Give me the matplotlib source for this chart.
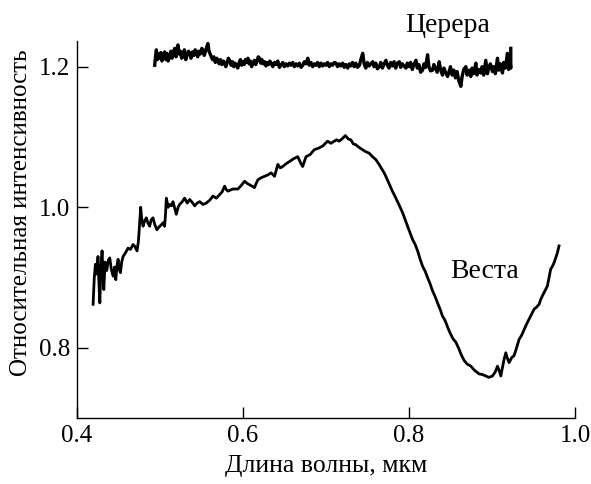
import numpy as np
import matplotlib
matplotlib.use('Agg')
import matplotlib.pyplot as plt

plt.rcParams['font.family'] = ['Liberation Serif', 'DejaVu Serif']

# Vesta spectrum (wavelength, um / relative intensity)
vesta_x = [0.4196, 0.4210, 0.4224, 0.4240, 0.4255, 0.4265, 0.4277, 0.4290, 0.4304,
           0.4315, 0.4325, 0.4340, 0.4360, 0.4380, 0.4397, 0.4415, 0.4437, 0.4455,
           0.4469, 0.4485, 0.4497, 0.4510, 0.4525, 0.4540, 0.4557, 0.4585, 0.4617,
           0.4645, 0.4677, 0.4700, 0.4725, 0.4740, 0.4749, 0.4760, 0.4769, 0.4780,
           0.4798, 0.4815, 0.4837, 0.4855, 0.4877, 0.4895, 0.4917, 0.4940, 0.4965,
           0.4990, 0.5017, 0.5040, 0.5057, 0.5068, 0.5078, 0.5100, 0.5118, 0.5140,
           0.5158, 0.5180, 0.5198, 0.5220, 0.5238, 0.5270, 0.5298, 0.5330, 0.5359,
           0.5390, 0.5419, 0.5450, 0.5479, 0.5520, 0.5559, 0.5600, 0.5640, 0.5680,
           0.5720, 0.5750, 0.5780, 0.5800, 0.5820, 0.5880, 0.5940, 0.5980, 0.6020,
           0.6050, 0.6080, 0.6110, 0.6140, 0.6160, 0.6180, 0.6220, 0.6261, 0.6300,
           0.6341, 0.6381, 0.6421, 0.6450, 0.6480, 0.6520, 0.6561, 0.6610, 0.6660,
           0.6700, 0.6720, 0.6760, 0.6810, 0.6860, 0.6910, 0.6960, 0.7020, 0.7060,
           0.7100, 0.7130, 0.7160, 0.7200, 0.7234, 0.7270, 0.7300, 0.7330, 0.7360,
           0.7400, 0.7440, 0.7480, 0.7520, 0.7560, 0.7600, 0.7640, 0.7680, 0.7710,
           0.7740, 0.7770, 0.7800, 0.7830, 0.7862, 0.7890, 0.7924, 0.7955, 0.7984,
           0.8015, 0.8044, 0.8075, 0.8104, 0.8135, 0.8164, 0.8195, 0.8224, 0.8255,
           0.8284, 0.8315, 0.8344, 0.8375, 0.8404, 0.8430, 0.8445, 0.8470, 0.8500,
           0.8530, 0.8565, 0.8600, 0.8630, 0.8665, 0.8700, 0.8745, 0.8790, 0.8845,
           0.8885, 0.8926, 0.8960, 0.9006, 0.9040, 0.9066, 0.9086, 0.9106, 0.9126,
           0.9146, 0.9166, 0.9186, 0.9206, 0.9236, 0.9266, 0.9296, 0.9326, 0.9357,
           0.9387, 0.9417, 0.9447, 0.9477, 0.9507, 0.9537, 0.9567, 0.9587, 0.9607,
           0.9637, 0.9667, 0.9687, 0.9707, 0.9727, 0.9747, 0.9767, 0.9787, 0.9807]
vesta_y = [0.862, 0.900, 0.919, 0.905, 0.930, 0.895, 0.864, 0.915, 0.938,
           0.905, 0.883, 0.922, 0.910, 0.925, 0.928, 0.912, 0.902, 0.915,
           0.897, 0.918, 0.926, 0.912, 0.907, 0.922, 0.930, 0.935, 0.942,
           0.940, 0.947, 0.944, 0.938, 0.950, 0.964, 0.985, 1.000, 0.985,
           0.973, 0.980, 0.985, 0.978, 0.973, 0.982, 0.985, 0.975, 0.968,
           0.972, 0.975, 0.978, 0.973, 0.990, 1.013, 1.000, 1.004, 1.002,
           1.008, 0.998, 0.990, 1.000, 1.004, 1.008, 1.013, 1.006, 1.011,
           1.007, 1.002, 1.006, 1.008, 1.004, 1.006, 1.010, 1.016, 1.013,
           1.018, 1.022, 1.030, 1.025, 1.023, 1.026, 1.026, 1.031, 1.037,
           1.034, 1.032, 1.030, 1.028, 1.034, 1.039, 1.042, 1.044, 1.046,
           1.049, 1.044, 1.061, 1.056, 1.058, 1.062, 1.065, 1.069, 1.072,
           1.062, 1.058, 1.072, 1.075, 1.082, 1.084, 1.087, 1.094, 1.091,
           1.094, 1.096, 1.094, 1.098, 1.102, 1.097, 1.096, 1.090, 1.089,
           1.085, 1.082, 1.079, 1.077, 1.072, 1.068, 1.061, 1.053, 1.047,
           1.039, 1.031, 1.023, 1.016, 1.008, 1.001, 0.992, 0.982, 0.973,
           0.963, 0.954, 0.947, 0.938, 0.926, 0.916, 0.909, 0.900, 0.891,
           0.881, 0.873, 0.864, 0.855, 0.845, 0.840, 0.836, 0.828, 0.820,
           0.813, 0.808, 0.799, 0.790, 0.782, 0.777, 0.774, 0.768, 0.763,
           0.762, 0.760, 0.758, 0.760, 0.766, 0.774, 0.768, 0.760, 0.772,
           0.784, 0.793, 0.785, 0.779, 0.786, 0.789, 0.800, 0.812, 0.818,
           0.826, 0.834, 0.841, 0.848, 0.855, 0.858, 0.862, 0.869, 0.874,
           0.881, 0.888, 0.900, 0.912, 0.916, 0.921, 0.928, 0.935, 0.945]

# Ceres spectrum
ceres_x = [0.4938, 0.4948, 0.4958, 0.4970, 0.4985, 0.4998, 0.5012, 0.5025, 0.5040,
           0.5058, 0.5072, 0.5085, 0.5100, 0.5118, 0.5132, 0.5148, 0.5162, 0.5178,
           0.5195, 0.5210, 0.5218, 0.5232, 0.5248, 0.5262, 0.5278, 0.5295, 0.5312,
           0.5330, 0.5345, 0.5359, 0.5375, 0.5392, 0.5410, 0.5425, 0.5439, 0.5455,
           0.5470, 0.5488, 0.5505, 0.5519, 0.5535, 0.5550, 0.5565, 0.5579, 0.5592,
           0.5605, 0.5619, 0.5635, 0.5650, 0.5668, 0.5684, 0.5699, 0.5715, 0.5730,
           0.5748, 0.5765, 0.5780, 0.5795, 0.5810, 0.5825, 0.5840, 0.5858, 0.5875,
           0.5890, 0.5905, 0.5920, 0.5938, 0.5955, 0.5970, 0.5985, 0.6000, 0.6015,
           0.6030, 0.6045, 0.6060, 0.6075, 0.6090, 0.6105, 0.6120, 0.6138, 0.6155,
           0.6170, 0.6185, 0.6201, 0.6215, 0.6230, 0.6245, 0.6261, 0.6278, 0.6295,
           0.6310, 0.6325, 0.6341, 0.6360, 0.6380, 0.6400, 0.6420, 0.6440, 0.6461,
           0.6480, 0.6500, 0.6520, 0.6540, 0.6561, 0.6580, 0.6600, 0.6620, 0.6640,
           0.6660, 0.6680, 0.6700, 0.6721, 0.6740, 0.6760, 0.6782, 0.6800, 0.6820,
           0.6840, 0.6860, 0.6880, 0.6900, 0.6920, 0.6941, 0.6960, 0.6980, 0.7000,
           0.7020, 0.7040, 0.7060, 0.7080, 0.7100, 0.7122, 0.7140, 0.7160, 0.7180,
           0.7202, 0.7220, 0.7240, 0.7262, 0.7280, 0.7300, 0.7320, 0.7340, 0.7360,
           0.7380, 0.7403, 0.7420, 0.7443, 0.7460, 0.7480, 0.7500, 0.7520, 0.7540,
           0.7563, 0.7580, 0.7600, 0.7620, 0.7643, 0.7660, 0.7680, 0.7700, 0.7723,
           0.7740, 0.7760, 0.7780, 0.7800, 0.7820, 0.7840, 0.7860, 0.7884, 0.7900,
           0.7920, 0.7940, 0.7964, 0.7980, 0.8000, 0.8020, 0.8040, 0.8060, 0.8084,
           0.8100, 0.8120, 0.8140, 0.8164, 0.8180, 0.8200, 0.8224, 0.8240, 0.8260,
           0.8284, 0.8300, 0.8320, 0.8340, 0.8364, 0.8380, 0.8404, 0.8420, 0.8440,
           0.8465, 0.8485, 0.8500, 0.8520, 0.8540, 0.8560, 0.8580, 0.8600, 0.8625,
           0.8640, 0.8660, 0.8685, 0.8700, 0.8720, 0.8745, 0.8760, 0.8780, 0.8805,
           0.8820, 0.8840, 0.8865, 0.8880, 0.8900, 0.8925, 0.8945, 0.8960, 0.8980,
           0.9006, 0.9020, 0.9040, 0.9066, 0.9080, 0.9100, 0.9126, 0.9140, 0.9160,
           0.9186, 0.9200, 0.9215, 0.9226, 0.9226]
ceres_y = [1.202, 1.215, 1.224, 1.210, 1.218, 1.212, 1.220, 1.208, 1.216,
           1.221, 1.210, 1.219, 1.208, 1.214, 1.222, 1.212, 1.220, 1.226,
           1.214, 1.228, 1.231, 1.218, 1.222, 1.212, 1.214, 1.224, 1.210,
           1.218, 1.222, 1.219, 1.212, 1.221, 1.216, 1.224, 1.221, 1.214,
           1.222, 1.218, 1.226, 1.224, 1.216, 1.222, 1.228, 1.233, 1.222,
           1.218, 1.214, 1.210, 1.214, 1.206, 1.212, 1.209, 1.204, 1.210,
           1.203, 1.208, 1.205, 1.200, 1.206, 1.212, 1.209, 1.202, 1.207,
           1.200, 1.205, 1.202, 1.198, 1.206, 1.210, 1.202, 1.207, 1.203,
           1.210, 1.206, 1.212, 1.204, 1.208, 1.200, 1.205, 1.209, 1.203,
           1.208, 1.214, 1.212, 1.205, 1.210, 1.204, 1.207, 1.201, 1.206,
           1.203, 1.208, 1.205, 1.200, 1.206, 1.203, 1.208, 1.199, 1.202,
           1.206, 1.200, 1.204, 1.201, 1.205, 1.202, 1.206, 1.200, 1.204,
           1.201, 1.205, 1.199, 1.202, 1.207, 1.204, 1.212, 1.202, 1.206,
           1.200, 1.204, 1.202, 1.206, 1.200, 1.205, 1.201, 1.204, 1.202,
           1.206, 1.200, 1.204, 1.202, 1.206, 1.205, 1.200, 1.204, 1.201,
           1.205, 1.199, 1.203, 1.198, 1.204, 1.201, 1.206, 1.200, 1.205,
           1.199, 1.202, 1.210, 1.219, 1.204, 1.198, 1.206, 1.201, 1.204,
           1.207, 1.200, 1.205, 1.197, 1.200, 1.206, 1.198, 1.204, 1.209,
           1.202, 1.198, 1.206, 1.201, 1.207, 1.198, 1.205, 1.207, 1.199,
           1.204, 1.201, 1.198, 1.205, 1.200, 1.206, 1.196, 1.203, 1.209,
           1.198, 1.203, 1.192, 1.195, 1.204, 1.199, 1.217, 1.200, 1.194,
           1.195, 1.203, 1.198, 1.192, 1.207, 1.196, 1.188, 1.198, 1.192,
           1.186, 1.194, 1.200, 1.188, 1.195, 1.184, 1.193, 1.180, 1.172,
           1.186, 1.196, 1.200, 1.188, 1.195, 1.186, 1.198, 1.190, 1.205,
           1.188, 1.196, 1.191, 1.200, 1.188, 1.209, 1.190, 1.198, 1.204,
           1.193, 1.200, 1.190, 1.212, 1.195, 1.204, 1.191, 1.206, 1.198,
           1.219, 1.196, 1.210, 1.198, 1.226]

def main():
    fig = plt.figure(figsize=(5.91, 4.84), dpi=100)
    ax = fig.add_axes([0.130, 0.136, 0.843, 0.780])

    ax.plot(vesta_x, vesta_y, color='black', lw=2.0)
    ax.plot(ceres_x, ceres_y, color='black', lw=2.4)

    ax.text(0.847, 1.259, 'Церера', fontsize=20, ha='center', va='center')
    ax.text(0.8906, 0.909, 'Веста', fontsize=20, ha='center', va='center')

    ax.set_xlim(0.4, 1.0)
    ax.set_ylim(0.70, 1.237)
    ax.set_xticks([0.4, 0.6, 0.8, 1.0])
    ax.set_yticks([0.8, 1.0, 1.2])
    ax.set_xticklabels(['0.4', '0.6', '0.8', '1.0'])
    ax.set_yticklabels(['0.8', '1.0', '1.2'])
    ax.spines['top'].set_visible(False)
    ax.spines['right'].set_visible(False)
    for s in ['left', 'bottom']:
        ax.spines[s].set_linewidth(1.0)
    ax.tick_params(direction='in', length=8, width=1.0, labelsize=18, pad=5)

    ax.set_xlabel('Длина волны, мкм', fontsize=18.5, labelpad=6)
    ax.set_ylabel('Относительная интенсивность', fontsize=18)
    ax.yaxis.set_label_coords(-0.09, 0.543)

    fig.savefig('out.png', dpi=100)

main()
